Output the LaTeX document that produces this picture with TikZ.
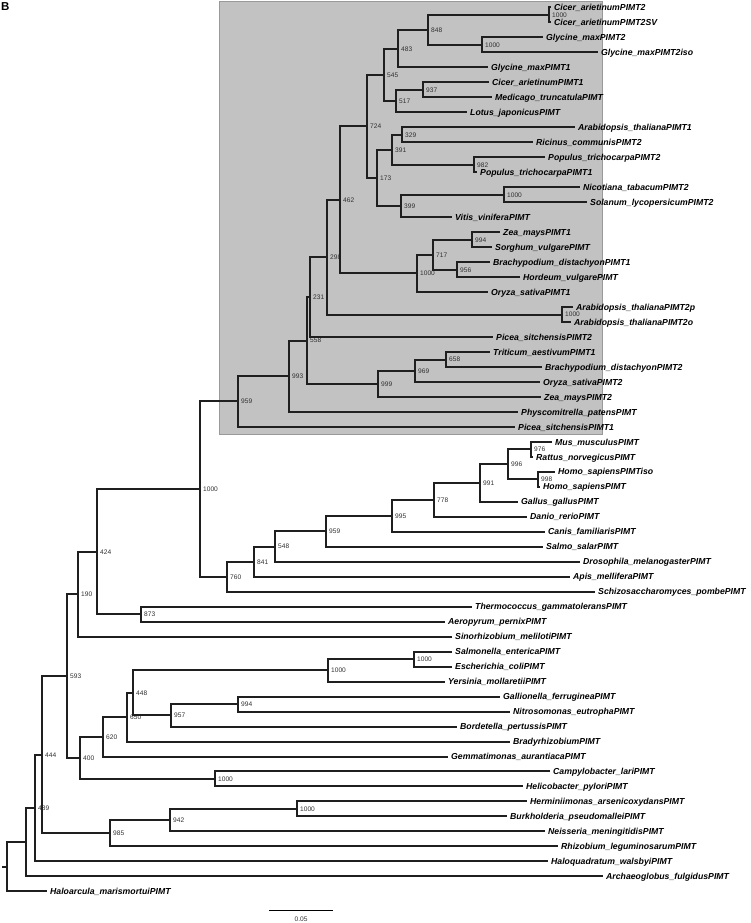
\documentclass[tikz,border=0pt]{standalone}
\usepackage{fontspec}
\setmainfont{Liberation Sans}
\usetikzlibrary{calc}
\definecolor{boxgray}{HTML}{C2C2C2}
\definecolor{boxedge}{HTML}{999999}
\definecolor{bstext}{HTML}{303030}
\newcommand\ly[1]{7.5+14.98*(#1-1)}
\newcommand\tipleaf[3]{\coordinate (l#1) at (#2,{\ly{#1}}); \node[tip] (t#1) at (l#1) {#3};}
\newcommand\inode[4]{\coordinate (#1) at (#2,{\ly{#3}}); \node[bs] (#1t) at (#1) {#4};}
\tikzset{
  br/.style={line width=2pt, line join=miter, draw=black!88},
  tip/.style={font=\bfseries\itshape\fontsize{8.7}{10}\selectfont, anchor=base west, inner sep=0pt, xshift=3pt, yshift=-3.1pt},
  bs/.style={font=\fontsize{6.6}{7.5}\selectfont, text=bstext, anchor=base west, inner sep=0pt, xshift=3pt, yshift=-2.4pt},
}
\begin{document}
\begin{tikzpicture}[x=1pt,y=-1pt]
\useasboundingbox (0,0) rectangle (751,923);
\fill[boxgray] (219,1) rectangle (602,434);
\draw[boxedge, line width=0.8pt] (219,1) rectangle (602,434);
\node[font=\bfseries\fontsize{11.5}{12}\selectfont, anchor=north west, inner sep=0pt] (B) at (1,2) {B};

% leaves
\tipleaf{1}{551}{Cicer\_arietinumPIMT2}
\tipleaf{2}{551}{Cicer\_arietinumPIMT2SV}
\tipleaf{3}{543}{Glycine\_maxPIMT2}
\tipleaf{4}{598}{Glycine\_maxPIMT2iso}
\tipleaf{5}{488}{Glycine\_maxPIMT1}
\tipleaf{6}{489}{Cicer\_arietinumPIMT1}
\tipleaf{7}{492}{Medicago\_truncatulaPIMT}
\tipleaf{8}{467}{Lotus\_japonicusPIMT}
\tipleaf{9}{575}{Arabidopsis\_thalianaPIMT1}
\tipleaf{10}{533}{Ricinus\_communisPIMT2}
\tipleaf{11}{545}{Populus\_trichocarpaPIMT2}
\tipleaf{12}{477}{Populus\_trichocarpaPIMT1}
\tipleaf{13}{580}{Nicotiana\_tabacumPIMT2}
\tipleaf{14}{587}{Solanum\_lycopersicumPIMT2}
\tipleaf{15}{452}{Vitis\_viniferaPIMT}
\tipleaf{16}{500}{Zea\_maysPIMT1}
\tipleaf{17}{492}{Sorghum\_vulgarePIMT}
\tipleaf{18}{490}{Brachypodium\_distachyonPIMT1}
\tipleaf{19}{520}{Hordeum\_vulgarePIMT}
\tipleaf{20}{488}{Oryza\_sativaPIMT1}
\tipleaf{21}{573}{Arabidopsis\_thalianaPIMT2p}
\tipleaf{22}{571}{Arabidopsis\_thalianaPIMT2o}
\tipleaf{23}{493}{Picea\_sitchensisPIMT2}
\tipleaf{24}{490}{Triticum\_aestivumPIMT1}
\tipleaf{25}{542}{Brachypodium\_distachyonPIMT2}
\tipleaf{26}{540}{Oryza\_sativaPIMT2}
\tipleaf{27}{541}{Zea\_maysPIMT2}
\tipleaf{28}{518}{Physcomitrella\_patensPIMT}
\tipleaf{29}{515}{Picea\_sitchensisPIMT1}
\tipleaf{30}{552}{Mus\_musculusPIMT}
\tipleaf{31}{533}{Rattus\_norvegicusPIMT}
\tipleaf{32}{555}{Homo\_sapiensPIMTiso}
\tipleaf{33}{540}{Homo\_sapiensPIMT}
\tipleaf{34}{518}{Gallus\_gallusPIMT}
\tipleaf{35}{527}{Danio\_rerioPIMT}
\tipleaf{36}{545}{Canis\_familiarisPIMT}
\tipleaf{37}{543}{Salmo\_salarPIMT}
\tipleaf{38}{580}{Drosophila\_melanogasterPIMT}
\tipleaf{39}{570}{Apis\_melliferaPIMT}
\tipleaf{40}{595}{Schizosaccharomyces\_pombePIMT}
\tipleaf{41}{472}{Thermococcus\_gammatoleransPIMT}
\tipleaf{42}{445}{Aeropyrum\_pernixPIMT}
\tipleaf{43}{452}{Sinorhizobium\_melilotiPIMT}
\tipleaf{44}{452}{Salmonella\_entericaPIMT}
\tipleaf{45}{452}{Escherichia\_coliPIMT}
\tipleaf{46}{445}{Yersinia\_mollaretiiPIMT}
\tipleaf{47}{500}{Gallionella\_ferrugineaPIMT}
\tipleaf{48}{510}{Nitrosomonas\_eutrophaPIMT}
\tipleaf{49}{457}{Bordetella\_pertussisPIMT}
\tipleaf{50}{510}{BradyrhizobiumPIMT}
\tipleaf{51}{448}{Gemmatimonas\_aurantiacaPIMT}
\tipleaf{52}{550}{Campylobacter\_lariPIMT}
\tipleaf{53}{523}{Helicobacter\_pyloriPIMT}
\tipleaf{54}{527}{Herminiimonas\_arsenicoxydansPIMT}
\tipleaf{55}{507}{Burkholderia\_pseudomalleiPIMT}
\tipleaf{56}{545}{Neisseria\_meningitidisPIMT}
\tipleaf{57}{558}{Rhizobium\_leguminosarumPIMT}
\tipleaf{58}{548}{Haloquadratum\_walsbyiPIMT}
\tipleaf{59}{603}{Archaeoglobus\_fulgidusPIMT}
\tipleaf{60}{47}{Haloarcula\_marismortuiPIMT}

% internal nodes
\inode{cA}{549}{1.5}{1000}
\inode{gB}{482}{3.5}{1000}
\inode{n848}{428}{2.5}{848}
\inode{n483}{398}{3.75}{483}
\inode{n937}{423}{6.5}{937}
\inode{n517}{396}{7.25}{517}
\inode{n545}{384}{5.5}{545}
\inode{n329}{402}{9.5}{329}
\inode{n982}{474}{11.5}{982}
\inode{n391}{392}{10.5}{391}
\inode{nNS}{504}{13.5}{1000}
\inode{n399}{401}{14.25}{399}
\inode{n173}{377}{12.375}{173}
\inode{n724}{367}{8.9375}{724}
\inode{nZS}{472}{16.5}{994}
\inode{n956}{457}{18.5}{956}
\inode{n717}{433}{17.5}{717}
\inode{nMono}{417}{18.75}{1000}
\inode{n462}{340}{13.84375}{462}
\inode{nAra}{562}{21.5}{1000}
\inode{n298}{327}{17.671875}{298}
\inode{n231}{310}{20.3359}{231}
\inode{n658}{446}{24.5}{658}
\inode{n969}{415}{25.25}{969}
\inode{n999}{378}{26.125}{999}
\inode{n558}{307}{23.23}{558}
\inode{n993}{289}{25.615}{993}
\inode{n959p}{238}{27.3}{959}
\inode{n976}{531}{30.5}{976}
\inode{n998}{538}{32.5}{998}
\inode{n996}{508}{31.5}{996}
\inode{n991}{480}{32.75}{991}
\inode{n778}{434}{33.875}{778}
\inode{n995}{392}{34.9375}{995}
\inode{n959a}{326}{35.96875}{959}
\inode{n548}{275}{36.984}{548}
\inode{n841}{254}{37.992}{841}
\inode{n760}{227}{38.996}{760}
\inode{nPA}{200}{33.148}{1000}
\inode{n873}{141}{41.5}{873}
\inode{n424}{97}{37.324}{424}
\inode{n190}{78}{40.162}{190}
\inode{nSE}{414}{44.5}{1000}
\inode{nSY}{328}{45.25}{1000}
\inode{n994g}{238}{47.5}{994}
\inode{n957}{171}{48.25}{957}
\inode{n448}{133}{46.75}{448}
\inode{n650}{127}{48.375}{650}
\inode{n620}{103}{49.6875}{620}
\inode{nCH}{215}{52.5}{1000}
\inode{n400}{80}{51.09375}{400}
\inode{n593}{67}{45.628}{593}
\inode{nHB}{297}{54.5}{1000}
\inode{n942}{170}{55.25}{942}
\inode{n985}{110}{56.125}{985}
\inode{n444}{42}{50.8765}{444}
\inode{n489}{35}{54.438}{489}
\coordinate (nR2) at (26,{\ly{56.719}});
\coordinate (nRoot) at (7,{\ly{58.36}});
\coordinate (stub) at (2,{\ly{58.36}});

% branches
\draw[br] (cA) |- (l1) (cA) |- (l2);
\draw[br] (gB) |- (l3) (gB) |- (l4);
\draw[br] (n848) |- (cA) (n848) |- (gB);
\draw[br] (n483) |- (n848) (n483) |- (l5);
\draw[br] (n937) |- (l6) (n937) |- (l7);
\draw[br] (n517) |- (n937) (n517) |- (l8);
\draw[br] (n545) |- (n483) (n545) |- (n517);
\draw[br] (n329) |- (l9) (n329) |- (l10);
\draw[br] (n982) |- (l11) (n982) |- (l12);
\draw[br] (n391) |- (n329) (n391) |- (n982);
\draw[br] (nNS) |- (l13) (nNS) |- (l14);
\draw[br] (n399) |- (nNS) (n399) |- (l15);
\draw[br] (n173) |- (n391) (n173) |- (n399);
\draw[br] (n724) |- (n545) (n724) |- (n173);
\draw[br] (nZS) |- (l16) (nZS) |- (l17);
\draw[br] (n956) |- (l18) (n956) |- (l19);
\draw[br] (n717) |- (nZS) (n717) |- (n956);
\draw[br] (nMono) |- (n717) (nMono) |- (l20);
\draw[br] (n462) |- (n724) (n462) |- (nMono);
\draw[br] (nAra) |- (l21) (nAra) |- (l22);
\draw[br] (n298) |- (n462) (n298) |- (nAra);
\draw[br] (n231) |- (n298) (n231) |- (l23);
\draw[br] (n658) |- (l24) (n658) |- (l25);
\draw[br] (n969) |- (n658) (n969) |- (l26);
\draw[br] (n999) |- (n969) (n999) |- (l27);
\draw[br] (n558) |- (n231) (n558) |- (n999);
\draw[br] (n993) |- (n558) (n993) |- (l28);
\draw[br] (n959p) |- (n993) (n959p) |- (l29);
\draw[br] (n976) |- (l30) (n976) |- (l31);
\draw[br] (n998) |- (l32) (n998) |- (l33);
\draw[br] (n996) |- (n976) (n996) |- (n998);
\draw[br] (n991) |- (n996) (n991) |- (l34);
\draw[br] (n778) |- (n991) (n778) |- (l35);
\draw[br] (n995) |- (n778) (n995) |- (l36);
\draw[br] (n959a) |- (n995) (n959a) |- (l37);
\draw[br] (n548) |- (n959a) (n548) |- (l38);
\draw[br] (n841) |- (n548) (n841) |- (l39);
\draw[br] (n760) |- (n841) (n760) |- (l40);
\draw[br] (nPA) |- (n959p) (nPA) |- (n760);
\draw[br] (n873) |- (l41) (n873) |- (l42);
\draw[br] (n424) |- (nPA) (n424) |- (n873);
\draw[br] (n190) |- (n424) (n190) |- (l43);
\draw[br] (nSE) |- (l44) (nSE) |- (l45);
\draw[br] (nSY) |- (nSE) (nSY) |- (l46);
\draw[br] (n994g) |- (l47) (n994g) |- (l48);
\draw[br] (n957) |- (n994g) (n957) |- (l49);
\draw[br] (n448) |- (nSY) (n448) |- (n957);
\draw[br] (n650) |- (n448) (n650) |- (l50);
\draw[br] (n620) |- (n650) (n620) |- (l51);
\draw[br] (nCH) |- (l52) (nCH) |- (l53);
\draw[br] (n400) |- (n620) (n400) |- (nCH);
\draw[br] (n593) |- (n190) (n593) |- (n400);
\draw[br] (nHB) |- (l54) (nHB) |- (l55);
\draw[br] (n942) |- (nHB) (n942) |- (l56);
\draw[br] (n985) |- (n942) (n985) |- (l57);
\draw[br] (n444) |- (n593) (n444) |- (n985);
\draw[br] (n489) |- (n444) (n489) |- (l58);
\draw[br] (nR2) |- (n489) (nR2) |- (l59);
\draw[br] (nRoot) |- (nR2) (nRoot) |- (l60);
\draw[br] (stub) -- (nRoot);

% scale bar
\coordinate (sb1) at (269,910);
\coordinate (sb2) at (333,910);
\draw[line width=0.8pt] (sb1) -- (sb2);
\node[font=\fontsize{6.6}{7.5}\selectfont, text=bstext, inner sep=0pt, anchor=base] (sbl) at (301,921) {0.05};
\end{tikzpicture}
\end{document}
